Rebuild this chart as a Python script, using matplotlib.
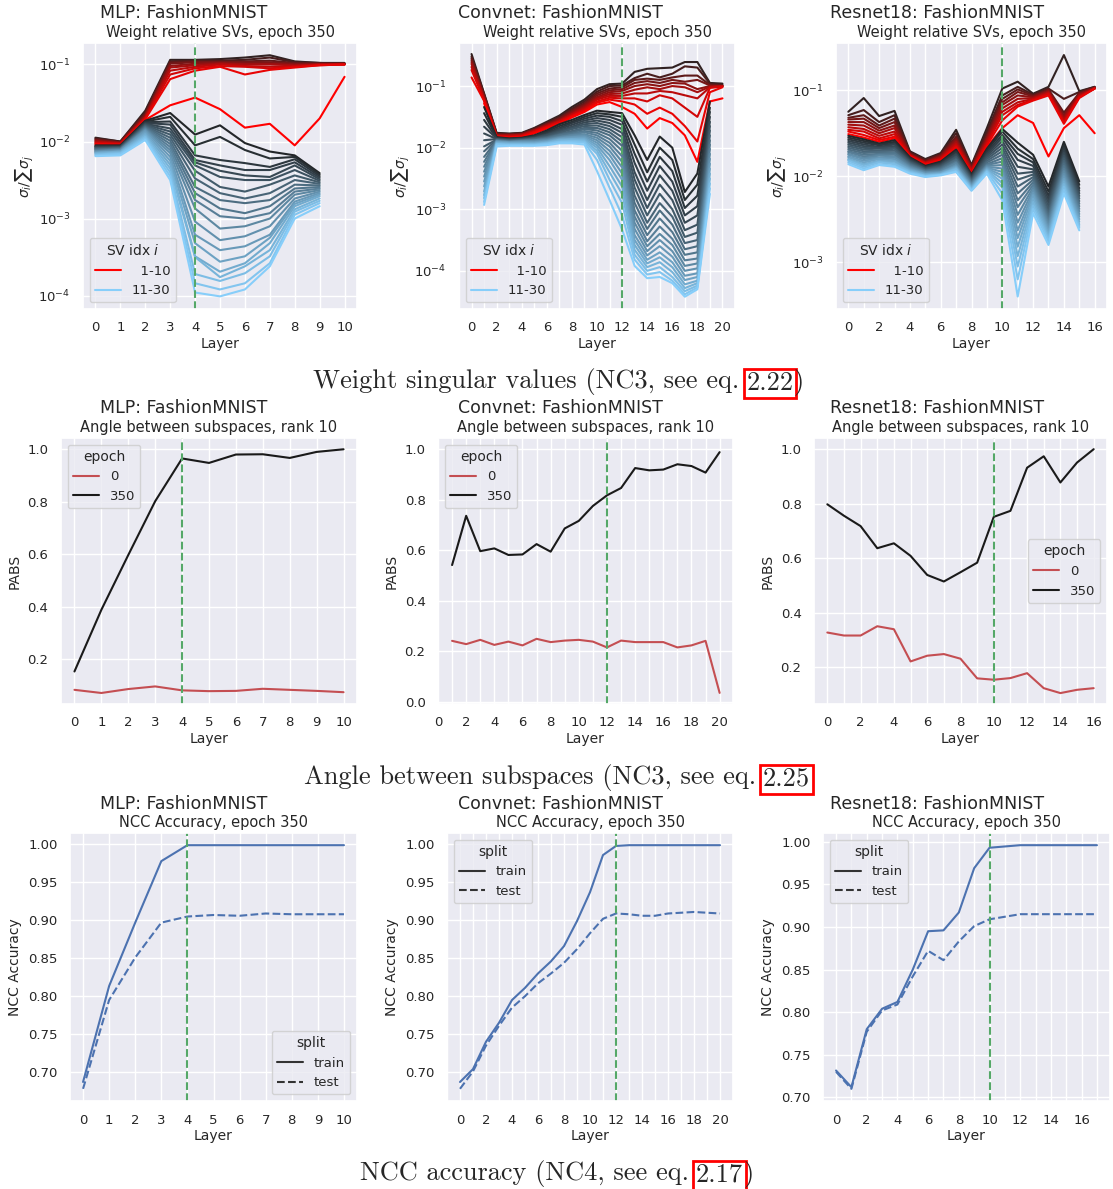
import numpy as np
import matplotlib.pyplot as plt
import seaborn as sns
from matplotlib.lines import Line2D
from matplotlib.ticker import MultipleLocator

sns.set_theme(style='darkgrid')
plt.rcParams.update({
    'xtick.labelsize': 9.5,
    'ytick.labelsize': 9.5,
    'axes.labelsize': 10,
    'axes.titlesize': 10.5,
    'legend.fontsize': 9.5,
    'legend.title_fontsize': 10,
})

nan = np.nan

# relative singular values, log10, one row per layer
# "top" = SV idx 1-10, "rest" = SV idx 11-30
mlp_sv_top = [
    [-1.95, -1.96, -1.97, -1.98, -1.99, -2.0, -2.01, -2.02, -2.03, -2.04],
    [-2.0, -2.0, -2.01, -2.01, -2.02, -2.02, -2.03, -2.03, -2.04, -2.05],
    [-1.6, -1.62, -1.64, -1.65, -1.67, -1.68, -1.69, -1.7, -1.71, -1.72],
    [-0.94, -0.96, -0.97, -0.99, -1.02, -1.04, -1.08, -1.13, -1.19, -1.53],
    [-0.94, -0.95, -0.96, -0.97, -0.99, -1.01, -1.03, -1.05, -1.08, -1.43],
    [-0.93, -0.95, -0.96, -0.97, -0.98, -0.99, -1.0, -1.02, -1.03, -1.58],
    [-0.91, -0.94, -0.96, -0.97, -0.99, -1.0, -1.02, -1.03, -1.13, -1.82],
    [-0.88, -0.91, -0.95, -0.97, -0.99, -1.0, -1.03, -1.05, -1.07, -1.77],
    [-0.96, -0.97, -0.98, -0.99, -1.0, -1.01, -1.02, -1.03, -1.04, -2.05],
    [-0.98, -0.98, -0.99, -0.99, -1.0, -1.0, -1.0, -1.01, -1.01, -1.7],
    [-0.98, -0.99, -0.99, -0.99, -0.99, -1.0, -1.0, -1.0, -1.0, -1.16],
]
mlp_sv_rest = [
    [-2.05, -2.06, -2.065, -2.07, -2.08, -2.085, -2.09, -2.1, -2.105, -2.11, -2.12, -2.125, -2.13, -2.14, -2.145, -2.15, -2.16, -2.17, -2.18, -2.19],
    [-2.05, -2.06, -2.06, -2.07, -2.07, -2.08, -2.08, -2.09, -2.09, -2.1, -2.1, -2.11, -2.11, -2.12, -2.13, -2.13, -2.14, -2.15, -2.16, -2.18],
    [-1.73, -1.74, -1.75, -1.76, -1.77, -1.78, -1.79, -1.8, -1.81, -1.82, -1.83, -1.84, -1.85, -1.86, -1.88, -1.9, -1.92, -1.94, -1.96, -1.98],
    [-1.63, -1.68, -1.74, -1.78, -1.83, -1.87, -1.91, -1.95, -1.99, -2.03, -2.07, -2.11, -2.15, -2.2, -2.25, -2.3, -2.35, -2.4, -2.45, -2.5],
    [-1.91, -2.05, -2.18, -2.24, -2.27, -2.31, -2.38, -2.48, -2.59, -2.67, -2.76, -2.87, -3.04, -3.21, -3.32, -3.49, -3.5, -3.72, -3.84, -3.96],
    [-1.79, -1.94, -2.24, -2.31, -2.38, -2.46, -2.59, -2.67, -2.76, -2.87, -2.97, -3.13, -3.28, -3.41, -3.56, -3.69, -3.76, -3.81, -3.92, -4.01],
    [-2.02, -2.11, -2.28, -2.37, -2.44, -2.5, -2.65, -2.74, -2.8, -2.93, -3.0, -3.1, -3.23, -3.36, -3.49, -3.58, -3.62, -3.71, -3.84, -3.92],
    [-2.13, -2.22, -2.33, -2.37, -2.46, -2.5, -2.56, -2.67, -2.76, -2.84, -2.93, -3.0, -3.1, -3.21, -3.25, -3.32, -3.41, -3.49, -3.58, -3.62],
    [-2.18, -2.2, -2.23, -2.27, -2.31, -2.37, -2.44, -2.5, -2.56, -2.61, -2.65, -2.69, -2.74, -2.78, -2.81, -2.84, -2.88, -2.91, -2.95, -3.0],
    [-2.41, -2.43, -2.45, -2.47, -2.49, -2.51, -2.53, -2.55, -2.57, -2.59, -2.61, -2.63, -2.65, -2.67, -2.69, -2.71, -2.74, -2.77, -2.8, -2.84],
]

conv_sv_top = [
    [-0.48, -0.52, -0.55, -0.58, -0.61, -0.64, -0.69, -0.74, -0.86, nan],
    [-1.12, -1.13, -1.15, -1.17, -1.18, -1.2, -1.22, -1.23, -1.24, -1.28],
    [-1.76, -1.77, -1.78, -1.79, -1.8, -1.8, -1.81, -1.81, -1.82, -1.83],
    [-1.77, -1.78, -1.78, -1.79, -1.8, -1.8, -1.81, -1.82, -1.83, -1.84],
    [-1.76, -1.77, -1.77, -1.78, -1.79, -1.79, -1.8, -1.81, -1.82, -1.83],
    [-1.68, -1.69, -1.7, -1.71, -1.72, -1.72, -1.73, -1.74, -1.75, -1.77],
    [-1.58, -1.6, -1.61, -1.62, -1.63, -1.64, -1.65, -1.66, -1.67, -1.69],
    [-1.48, -1.5, -1.52, -1.53, -1.55, -1.56, -1.57, -1.58, -1.6, -1.61],
    [-1.34, -1.37, -1.39, -1.41, -1.43, -1.45, -1.46, -1.48, -1.49, -1.51],
    [-1.22, -1.25, -1.28, -1.3, -1.32, -1.34, -1.36, -1.38, -1.4, -1.42],
    [-1.05, -1.09, -1.12, -1.15, -1.18, -1.2, -1.22, -1.25, -1.27, -1.3],
    [-0.97, -1.0, -1.04, -1.07, -1.1, -1.13, -1.16, -1.19, -1.22, -1.26],
    [-0.96, -0.99, -1.02, -1.05, -1.08, -1.12, -1.16, -1.2, -1.25, -1.34],
    [-0.77, -0.87, -0.9, -0.95, -1.0, -1.06, -1.12, -1.2, -1.3, -1.45],
    [-0.72, -0.8, -0.88, -0.92, -0.97, -1.02, -1.12, -1.25, -1.45, -1.69],
    [-0.71, -0.86, -0.9, -0.95, -1.0, -1.05, -1.08, -1.15, -1.35, -1.52],
    [-0.7, -0.8, -0.86, -0.9, -0.95, -1.0, -1.1, -1.2, -1.45, -1.6],
    [-0.61, -0.68, -0.83, -0.93, -0.96, -1.02, -1.15, -1.35, -1.65, -1.8],
    [-0.61, -0.7, -0.83, -0.9, -1.05, -1.1, -1.2, -1.5, -1.9, -2.23],
    [-0.95, -0.96, -0.98, -0.99, -1.0, -1.01, -1.02, -1.03, -1.1, -1.25],
    [-0.96, -0.98, -0.99, -1.0, -1.0, -1.0, -1.0, -1.01, -1.02, -1.2],
]
# starts at layer 1, ends at layer 19
conv_sv_rest = [
    [-1.34, -1.44, -1.55, -1.66, -1.77, -1.88, -1.98, -2.06, -2.15, -2.23, -2.31, -2.39, -2.47, -2.55, -2.63, -2.71, -2.77, -2.82, -2.88, -2.93],
    [-1.83, -1.84, -1.85, -1.85, -1.86, -1.86, -1.87, -1.87, -1.88, -1.88, -1.89, -1.89, -1.9, -1.9, -1.91, -1.92, -1.93, -1.94, -1.95, -1.98],
    [-1.85, -1.86, -1.86, -1.87, -1.87, -1.88, -1.88, -1.89, -1.89, -1.9, -1.9, -1.91, -1.91, -1.92, -1.92, -1.93, -1.94, -1.95, -1.96, -1.97],
    [-1.84, -1.85, -1.85, -1.86, -1.86, -1.87, -1.87, -1.88, -1.88, -1.89, -1.89, -1.9, -1.9, -1.91, -1.92, -1.93, -1.94, -1.95, -1.96, -1.97],
    [-1.8, -1.81, -1.82, -1.83, -1.84, -1.85, -1.85, -1.86, -1.87, -1.88, -1.88, -1.89, -1.9, -1.91, -1.92, -1.93, -1.94, -1.95, -1.96, -1.97],
    [-1.72, -1.74, -1.76, -1.78, -1.79, -1.8, -1.82, -1.83, -1.84, -1.85, -1.86, -1.87, -1.88, -1.89, -1.9, -1.91, -1.92, -1.93, -1.94, -1.96],
    [-1.62, -1.65, -1.68, -1.7, -1.72, -1.74, -1.76, -1.78, -1.79, -1.8, -1.82, -1.83, -1.84, -1.85, -1.86, -1.87, -1.88, -1.9, -1.91, -1.93],
    [-1.55, -1.58, -1.6, -1.63, -1.66, -1.68, -1.7, -1.73, -1.75, -1.77, -1.79, -1.8, -1.82, -1.83, -1.85, -1.86, -1.87, -1.89, -1.91, -1.93],
    [-1.47, -1.5, -1.53, -1.56, -1.59, -1.62, -1.65, -1.68, -1.7, -1.73, -1.75, -1.78, -1.8, -1.82, -1.84, -1.86, -1.88, -1.9, -1.92, -1.95],
    [-1.4, -1.44, -1.48, -1.52, -1.56, -1.6, -1.64, -1.68, -1.72, -1.76, -1.8, -1.84, -1.88, -1.92, -1.96, -2.0, -2.05, -2.1, -2.2, -2.38],
    [-1.42, -1.46, -1.5, -1.55, -1.6, -1.65, -1.7, -1.75, -1.8, -1.86, -1.92, -1.98, -2.05, -2.12, -2.2, -2.3, -2.4, -2.52, -2.65, -2.85],
    [-1.44, -1.5, -1.57, -1.63, -1.7, -1.76, -1.83, -1.9, -1.97, -2.05, -2.14, -2.23, -2.32, -2.42, -2.52, -2.63, -2.75, -2.9, -3.1, -3.33],
    [-1.8, -1.95, -2.1, -2.25, -2.4, -2.52, -2.65, -2.78, -2.9, -3.02, -3.12, -3.22, -3.32, -3.42, -3.5, -3.58, -3.66, -3.74, -3.82, -3.92],
    [-2.2, -2.4, -2.55, -2.7, -2.85, -2.98, -3.1, -3.22, -3.32, -3.42, -3.52, -3.6, -3.68, -3.75, -3.82, -3.88, -3.94, -4.0, -4.06, -4.12],
    [-1.82, -2.0, -2.15, -2.3, -2.45, -2.6, -2.75, -2.9, -3.02, -3.15, -3.28, -3.4, -3.5, -3.6, -3.7, -3.78, -3.86, -3.94, -4.02, -4.1],
    [-2.0, -2.2, -2.38, -2.55, -2.7, -2.85, -3.0, -3.12, -3.25, -3.37, -3.48, -3.58, -3.68, -3.77, -3.86, -3.94, -4.02, -4.1, -4.16, -4.2],
    [-2.72, -2.85, -2.98, -3.1, -3.22, -3.34, -3.45, -3.55, -3.65, -3.74, -3.83, -3.92, -4.0, -4.08, -4.15, -4.22, -4.28, -4.33, -4.38, -4.42],
    [-2.42, -2.6, -2.78, -2.95, -3.1, -3.25, -3.38, -3.5, -3.6, -3.7, -3.8, -3.88, -3.96, -4.04, -4.1, -4.16, -4.2, -4.24, -4.27, -4.3],
    [-1.25, -1.35, -1.42, -1.5, -1.58, -1.65, -1.72, -1.8, -1.88, -1.95, -2.02, -2.1, -2.18, -2.26, -2.34, -2.42, -2.5, -2.58, -2.66, -2.75],
]

res_sv_top = [
    [-1.25, -1.29, -1.32, -1.34, -1.37, -1.4, -1.43, -1.46, -1.48, -1.51],
    [-1.09, -1.23, -1.29, -1.33, -1.37, -1.41, -1.45, -1.48, -1.52, -1.55],
    [-1.3, -1.37, -1.41, -1.44, -1.47, -1.5, -1.53, -1.56, -1.58, -1.6],
    [-1.24, -1.29, -1.33, -1.37, -1.41, -1.44, -1.48, -1.51, -1.54, -1.56],
    [-1.71, -1.72, -1.73, -1.74, -1.745, -1.75, -1.755, -1.76, -1.765, -1.77],
    [-1.8, -1.81, -1.82, -1.83, -1.835, -1.84, -1.845, -1.85, -1.86, -1.87],
    [-1.73, -1.74, -1.75, -1.76, -1.77, -1.78, -1.79, -1.8, -1.81, -1.82],
    [-1.46, -1.5, -1.54, -1.56, -1.58, -1.6, -1.62, -1.64, -1.66, -1.68],
    [-1.87, -1.88, -1.89, -1.9, -1.91, -1.92, -1.93, -1.94, -1.96, -1.97],
    [-1.44, -1.48, -1.52, -1.54, -1.56, -1.58, -1.6, -1.62, -1.64, -1.66],
    [-0.98, -1.06, -1.1, -1.14, -1.17, -1.21, -1.25, -1.29, -1.35, -1.44],
    [-0.9, -0.96, -0.99, -1.02, -1.06, -1.1, -1.14, -1.17, -1.19, -1.29],
    [-1.04, -1.05, -1.06, -1.07, -1.08, -1.09, -1.1, -1.11, -1.12, -1.38],
    [-0.96, -0.98, -0.99, -1.0, -1.01, -1.02, -1.03, -1.04, -1.06, -1.77],
    [-0.59, -1.1, -1.26, -1.29, -1.31, -1.33, -1.35, -1.37, -1.39, -1.44],
    [-1.01, -1.02, -1.03, -1.04, -1.05, -1.06, -1.07, -1.08, -1.09, -1.29],
    [-0.96, -0.96, -0.97, -0.97, -0.97, -0.98, -0.98, -0.98, -0.98, -1.5],
]
res_sv_rest = [
    [-1.53, -1.55, -1.57, -1.59, -1.61, -1.63, -1.65, -1.67, -1.69, -1.71, -1.72, -1.74, -1.75, -1.77, -1.78, -1.8, -1.81, -1.82, -1.84, -1.86],
    [-1.57, -1.59, -1.61, -1.63, -1.65, -1.67, -1.69, -1.71, -1.73, -1.75, -1.77, -1.79, -1.8, -1.82, -1.84, -1.86, -1.87, -1.89, -1.91, -1.93],
    [-1.62, -1.63, -1.64, -1.66, -1.67, -1.68, -1.7, -1.71, -1.72, -1.74, -1.75, -1.76, -1.78, -1.79, -1.8, -1.82, -1.83, -1.84, -1.86, -1.87],
    [-1.58, -1.6, -1.62, -1.63, -1.65, -1.67, -1.68, -1.7, -1.72, -1.73, -1.75, -1.77, -1.78, -1.8, -1.82, -1.83, -1.85, -1.86, -1.88, -1.89],
    [-1.78, -1.79, -1.8, -1.81, -1.82, -1.83, -1.84, -1.85, -1.86, -1.87, -1.88, -1.89, -1.9, -1.91, -1.92, -1.93, -1.94, -1.95, -1.96, -1.97],
    [-1.88, -1.89, -1.895, -1.9, -1.91, -1.915, -1.92, -1.93, -1.935, -1.94, -1.95, -1.955, -1.96, -1.97, -1.975, -1.98, -1.99, -1.995, -2.0, -2.01],
    [-1.83, -1.84, -1.85, -1.86, -1.87, -1.88, -1.89, -1.9, -1.91, -1.92, -1.93, -1.94, -1.95, -1.955, -1.96, -1.97, -1.975, -1.98, -1.985, -1.99],
    [-1.69, -1.71, -1.72, -1.74, -1.75, -1.77, -1.78, -1.8, -1.81, -1.83, -1.84, -1.85, -1.87, -1.88, -1.89, -1.9, -1.91, -1.92, -1.94, -1.95],
    [-1.98, -1.99, -2.0, -2.01, -2.02, -2.03, -2.04, -2.05, -2.06, -2.07, -2.08, -2.09, -2.1, -2.11, -2.12, -2.13, -2.14, -2.15, -2.16, -2.17],
    [-1.68, -1.7, -1.72, -1.74, -1.76, -1.78, -1.8, -1.82, -1.84, -1.86, -1.87, -1.88, -1.89, -1.9, -1.91, -1.92, -1.93, -1.94, -1.95, -1.97],
    [-1.45, -1.48, -1.52, -1.55, -1.59, -1.63, -1.67, -1.71, -1.75, -1.79, -1.83, -1.87, -1.91, -1.95, -1.99, -2.03, -2.08, -2.13, -2.2, -2.28],
    [-1.61, -1.68, -1.74, -1.81, -1.89, -1.97, -2.04, -2.12, -2.2, -2.28, -2.36, -2.45, -2.54, -2.63, -2.72, -2.82, -2.93, -3.05, -3.2, -3.4],
    [-1.75, -1.8, -1.84, -1.88, -1.92, -1.95, -1.98, -2.01, -2.04, -2.07, -2.1, -2.13, -2.16, -2.19, -2.22, -2.26, -2.3, -2.34, -2.38, -2.43],
    [-2.12, -2.18, -2.23, -2.27, -2.31, -2.35, -2.39, -2.43, -2.46, -2.49, -2.52, -2.55, -2.58, -2.61, -2.64, -2.67, -2.7, -2.73, -2.76, -2.8],
    [-1.6, -1.64, -1.67, -1.7, -1.73, -1.76, -1.79, -1.82, -1.85, -1.88, -1.91, -1.94, -1.97, -2.0, -2.03, -2.06, -2.09, -2.12, -2.16, -2.2],
    [-2.06, -2.1, -2.14, -2.17, -2.2, -2.23, -2.26, -2.29, -2.32, -2.35, -2.38, -2.41, -2.44, -2.47, -2.5, -2.53, -2.56, -2.58, -2.6, -2.63],
]

# principal angles between subspaces (PABS)
mlp_pabs_0 = [0.083, 0.071, 0.086, 0.096, 0.081, 0.078, 0.079, 0.087, 0.083, 0.079, 0.074]
mlp_pabs_350 = [0.153, 0.388, 0.597, 0.802, 0.965, 0.948, 0.98, 0.981, 0.967, 0.99, 1.0]
conv_pabs_0 = [0.242, 0.229, 0.246, 0.226, 0.239, 0.224, 0.25, 0.237, 0.243, 0.246,
               0.239, 0.216, 0.243, 0.237, 0.237, 0.237, 0.216, 0.224, 0.242, 0.036]
conv_pabs_350 = [0.542, 0.737, 0.597, 0.608, 0.582, 0.584, 0.625, 0.595, 0.687, 0.717,
                 0.776, 0.818, 0.847, 0.926, 0.917, 0.92, 0.941, 0.934, 0.908, 0.989]
res_pabs_0 = [0.328, 0.317, 0.317, 0.351, 0.34, 0.222, 0.243, 0.249, 0.232, 0.16,
              0.155, 0.161, 0.179, 0.124, 0.106, 0.118, 0.124]
res_pabs_350 = [0.798, 0.756, 0.718, 0.637, 0.655, 0.609, 0.539, 0.515, 0.549, 0.584,
                0.752, 0.774, 0.932, 0.974, 0.878, 0.951, 1.0]

# nearest class centre accuracy
mlp_ncc_train = [0.687, 0.8135, 0.897, 0.978, 0.999, 0.999, 0.999, 0.999, 0.999, 0.999, 0.999]
mlp_ncc_test = [0.678, 0.795, 0.851, 0.897, 0.905, 0.907, 0.906, 0.909, 0.908, 0.908, 0.908]
conv_ncc_train = [0.687, 0.704, 0.74, 0.765, 0.795, 0.811, 0.83, 0.846, 0.866, 0.899, 0.937,
                  0.986, 0.998, 0.999, 0.999, 0.999, 0.999, 0.999, 0.999, 0.999, 0.999]
conv_ncc_test = [0.678, 0.701, 0.735, 0.761, 0.785, 0.8, 0.817, 0.83, 0.844, 0.862, 0.883,
                 0.902, 0.909, 0.908, 0.906, 0.906, 0.909, 0.91, 0.911, 0.91, 0.909]
res_ncc_train = [0.7315, 0.712, 0.78, 0.804, 0.812, 0.85, 0.895, 0.896, 0.917, 0.969,
                 0.993, 0.9945, 0.996, 0.996, 0.996, 0.996, 0.996, 0.996]
res_ncc_test = [0.73, 0.71, 0.777, 0.802, 0.809, 0.842, 0.872, 0.861, 0.883, 0.901,
                0.909, 0.912, 0.915, 0.915, 0.915, 0.915, 0.915, 0.915]

W, H = 1113, 1189
fig = plt.figure(figsize=(W / 100, H / 100), dpi=100)


def px_axes(l, t, r, b):
    return fig.add_axes([l / W, 1 - b / H, (r - l) / W, (b - t) / H])


def finish(ax, model, subtitle, col_center, title_y, vline, step):
    ax.axvline(vline, color='g', ls='--', lw=1.5)
    ax.set_title(subtitle, pad=4)
    ax.set_xlabel('Layer', labelpad=2)
    ax.xaxis.set_major_locator(MultipleLocator(step))
    if step > 1:
        ax.xaxis.set_minor_locator(MultipleLocator(1))
        ax.grid(which='minor', axis='x', color='white', lw=1)
    ax.tick_params(axis='both', pad=3)
    fig.text(col_center / W, 1 - title_y / H, f'{model}: FashionMNIST',
             ha='center', va='center', fontsize=12.5)


def sv_panel(ax, top, rest, rest_start):
    top = 10 ** np.array(top, dtype=float)
    rest = 10 ** np.array(rest, dtype=float)
    reds = sns.dark_palette('red', 10)
    blues = sns.dark_palette('lightskyblue', 20)
    xt = np.arange(len(top))
    for i in range(10):
        ax.plot(xt, top[:, i], color=reds[i], lw=1.5)
    xr = np.arange(rest_start, rest_start + len(rest))
    for j in range(20):
        ax.plot(xr, rest[:, j], color=blues[j], lw=1.5)
    ax.set_yscale('log')
    ax.set_ylabel(r'$\sigma_i/\sum\sigma_j$', labelpad=2)
    handles = [Line2D([], [], color='red', lw=1.5), Line2D([], [], color='lightskyblue', lw=1.5)]
    ax.legend(handles, ['  1-10', '11-30'], title='SV idx $i$', loc='lower left')


def pabs_panel(ax, x, e0, e350, loc):
    ax.plot(x, e0, color='r', lw=1.5, label='0')
    ax.plot(x, e350, color='k', lw=1.5, label='350')
    ax.set_ylabel('PABS', labelpad=4)
    ax.legend(title='epoch', loc=loc)


def ncc_panel(ax, train, test, loc):
    x = np.arange(len(train))
    ax.plot(x, train, color='b', lw=1.5)
    ax.plot(x, test, color='b', lw=1.5, ls='--')
    ax.set_ylabel('NCC Accuracy', labelpad=4)
    handles = [Line2D([], [], color='#333333', lw=1.5),
               Line2D([], [], color='#333333', lw=1.5, ls='--')]
    ax.legend(handles, ['train', 'test'], title='split', loc=loc)


centers = [184, 560, 937]

# row 1: weight singular values
ax1 = px_axes(83, 43, 357, 309)
sv_panel(ax1, mlp_sv_top, mlp_sv_rest, 0)
ax1.set_ylim(6.7e-5, 0.19)
finish(ax1, 'MLP', 'Weight relative SVs, epoch 350', centers[0], 13, 4, 1)

ax2 = px_axes(459, 43, 735, 309)
sv_panel(ax2, conv_sv_top, conv_sv_rest, 1)
ax2.set_ylim(2.4e-5, 0.5)
finish(ax2, 'Convnet', 'Weight relative SVs, epoch 350', centers[1], 13, 12, 2)

ax3 = px_axes(836, 43, 1107, 309)
sv_panel(ax3, res_sv_top, res_sv_rest, 0)
ax3.set_ylim(2.85e-4, 0.355)
finish(ax3, 'Resnet18', 'Weight relative SVs, epoch 350', centers[2], 13, 10, 2)

# row 2: angle between subspaces
ax4 = px_axes(61, 438, 357, 704)
pabs_panel(ax4, np.arange(len(mlp_pabs_0)), mlp_pabs_0, mlp_pabs_350, 'upper left')
ax4.set_ylim(0.029, 1.043)
ax4.set_yticks([0.2, 0.4, 0.6, 0.8, 1.0])
finish(ax4, 'MLP', 'Angle between subspaces, rank 10', centers[0], 408, 4, 1)

ax5 = px_axes(438, 438, 733, 704)
pabs_panel(ax5, np.arange(1, len(conv_pabs_0) + 1), conv_pabs_0, conv_pabs_350, 'upper left')
ax5.set_ylim(-0.008, 1.045)
ax5.set_xlim(0, 20.95)
finish(ax5, 'Convnet', 'Angle between subspaces, rank 10', centers[1], 408, 12, 2)

ax6 = px_axes(814, 438, 1107, 704)
pabs_panel(ax6, np.arange(len(res_pabs_0)), res_pabs_0, res_pabs_350, 'center right')
ax6.set_ylim(0.066, 1.041)
ax6.set_yticks([0.2, 0.4, 0.6, 0.8, 1.0])
finish(ax6, 'Resnet18', 'Angle between subspaces, rank 10', centers[2], 408, 10, 2)

# row 3: NCC accuracy
ax7 = px_axes(70, 833, 357, 1101)
ncc_panel(ax7, mlp_ncc_train, mlp_ncc_test, 'lower right')
finish(ax7, 'MLP', 'NCC Accuracy, epoch 350', centers[0], 804, 4, 1)

ax8 = px_axes(447, 833, 733, 1101)
ncc_panel(ax8, conv_ncc_train, conv_ncc_test, 'upper left')
finish(ax8, 'Convnet', 'NCC Accuracy, epoch 350', centers[1], 804, 12, 2)

ax9 = px_axes(823, 833, 1110, 1101)
ncc_panel(ax9, res_ncc_train, res_ncc_test, 'upper left')
finish(ax9, 'Resnet18', 'NCC Accuracy, epoch 350', centers[2], 804, 10, 2)

for ax in (ax7, ax8, ax9):
    ax.set_yticks([0.70, 0.75, 0.80, 0.85, 0.90, 0.95, 1.00])

# captions with boxed equation references
cap = fig.add_axes([0, 0, 1, 1])
cap.axis('off')
cap.set_xlim(0, W)
cap.set_ylim(H, 0)


def caption(x0, baseline, prefix, ref, suffix):
    kw = dict(fontfamily='cmr10', fontsize=19)
    t1 = cap.text(x0, baseline, prefix, ha='left', va='baseline', **kw)
    t2 = cap.annotate(ref, xy=(1, 0), xycoords=t1, xytext=(5, 0), textcoords='offset points',
                      ha='left', va='bottom',
                      bbox=dict(boxstyle='square,pad=0.1', fc='none', ec='red', lw=2), **kw)
    if suffix:
        cap.annotate(suffix, xy=(1, 0), xycoords=t2, ha='left', va='bottom', **kw)


caption(313, 388, 'Weight singular values (NC3, see eq.', '2.22', ')')
caption(304, 784, 'Angle between subspaces (NC3, see eq.', '2.25', '')
caption(360, 1180, 'NCC accuracy (NC4, see eq.', '2.17', ')')

fig.savefig('out.png', dpi=100)
